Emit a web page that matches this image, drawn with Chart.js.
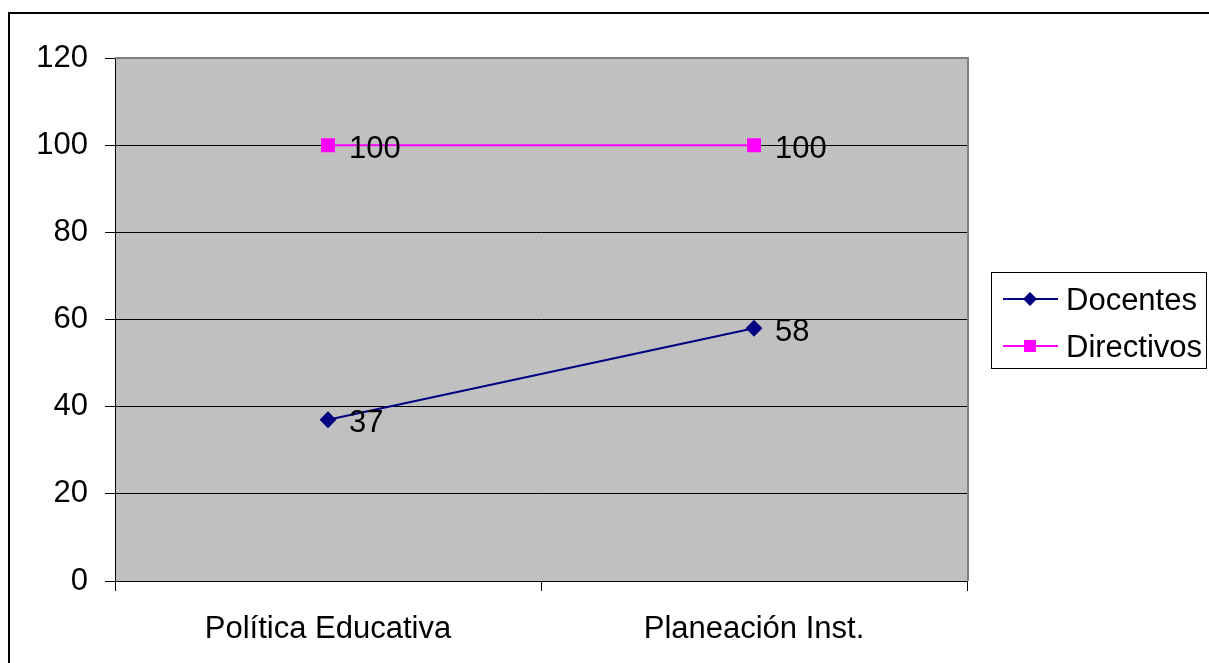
<!DOCTYPE html>
<html>
<head>
<meta charset="utf-8">
<script src="https://cdn.jsdelivr.net/npm/chart.js@4/dist/chart.umd.min.js"></script>
<style>
  html, body { margin: 0; padding: 0; background: #fff; }
  #wrap { width: 1209px; height: 663px; position: relative; }
</style>
</head>
<body>
<div id="wrap"><canvas id="myChart" width="1209" height="663"></canvas></div>
<script>
// data block
const categories = ['Política Educativa', 'Planeación Inst.'];
const docentes = [37, 58];
const directivos = [100, 100];
const yTicks = [0, 20, 40, 60, 80, 100, 120];

const FONT = '"Liberation Sans", Arial, sans-serif';
const FSIZE = 31;

// outer frame + grey plot background
const backdrop = {
    id: 'backdrop',
    beforeDraw(chart) {
        const ctx = chart.ctx;
        const a = chart.chartArea;
        ctx.save();
        ctx.strokeStyle = '#000';
        ctx.lineWidth = 2;
        ctx.strokeRect(9, 13, 1230, 700);
        ctx.fillStyle = '#C0C0C0';
        ctx.fillRect(a.left, a.top, a.right - a.left, a.bottom - a.top);
        ctx.restore();
    },
    beforeDatasetsDraw(chart) {
        const ctx = chart.ctx;
        const a = chart.chartArea;
        ctx.save();
        ctx.strokeStyle = '#808080';
        ctx.lineWidth = 2;
        ctx.beginPath();
        ctx.moveTo(a.left, a.top);
        ctx.lineTo(a.right + 1, a.top);
        ctx.lineTo(a.right + 1, a.bottom);
        ctx.stroke();
        ctx.restore();
    }
};

// value labels next to each point
const valueLabels = {
    id: 'valueLabels',
    afterDatasetsDraw(chart) {
        const ctx = chart.ctx;
        ctx.save();
        ctx.font = FSIZE + 'px ' + FONT;
        ctx.fillStyle = '#000';
        ctx.textAlign = 'left';
        ctx.textBaseline = 'middle';
        chart.data.datasets.forEach((ds, i) => {
            chart.getDatasetMeta(i).data.forEach((pt, j) => {
                ctx.fillText(String(ds.data[j]), pt.x + 21, pt.y + 4);
            });
        });
        ctx.restore();
    }
};

// boxed legend with line + marker samples
const boxLegend = {
    id: 'boxLegend',
    afterDraw(chart) {
        const ctx = chart.ctx;
        const x0 = 991, y0 = 272, w = 215, h = 96;
        ctx.save();
        ctx.strokeStyle = '#000';
        ctx.lineWidth = 1;
        ctx.strokeRect(x0 + 0.5, y0 + 0.5, w, h);
        ctx.font = FSIZE + 'px ' + FONT;
        ctx.textBaseline = 'middle';
        ctx.textAlign = 'left';
        chart.data.datasets.forEach((ds, i) => {
            const cy = y0 + 27 + i * 47;
            ctx.strokeStyle = ds.borderColor;
            ctx.lineWidth = 2;
            ctx.beginPath();
            ctx.moveTo(1003, cy);
            ctx.lineTo(1058, cy);
            ctx.stroke();
            ctx.fillStyle = ds.pointBackgroundColor;
            ctx.beginPath();
            if (ds.pointStyle === 'rectRot') {
                const r = 7;
                ctx.moveTo(1030 - r, cy);
                ctx.lineTo(1030, cy - r);
                ctx.lineTo(1030 + r, cy);
                ctx.lineTo(1030, cy + r);
                ctx.closePath();
            } else {
                ctx.rect(1024, cy - 6, 12, 12);
            }
            ctx.fill();
            ctx.fillStyle = '#000';
            ctx.fillText(ds.label, 1066, cy + 2);
        });
        ctx.restore();
    }
};

const data = {
    labels: categories,
    datasets: [{
        label: 'Docentes',
        data: docentes,
        borderColor: '#000080',
        backgroundColor: '#000080',
        pointBackgroundColor: '#000080',
        pointBorderColor: '#000080',
        pointStyle: 'rectRot',
        pointRadius: 7,
        borderWidth: 2
    }, {
        label: 'Directivos',
        data: directivos,
        borderColor: '#FF00FF',
        backgroundColor: '#FF00FF',
        pointBackgroundColor: '#FF00FF',
        pointBorderColor: '#FF00FF',
        pointStyle: 'rect',
        pointRadius: 8.5,
        borderWidth: 2
    }]
};

const config = {
    type: 'line',
    data: data,
    options: {
        responsive: false,
        animation: false,
        layout: { padding: { top: 58, right: 242, bottom: 0, left: 0 } },
        plugins: {
            legend: { display: false },
            tooltip: { enabled: false }
        },
        scales: {
            x: {
                offset: true,
                grid: { display: true, drawOnChartArea: false, offset: true, color: '#000', tickLength: 10 },
                border: { display: true, color: '#000', width: 1 },
                ticks: { color: '#000', font: { family: FONT, size: FSIZE }, padding: 20, maxRotation: 0 },
                afterFit(scale) { scale.height = 82; }
            },
            y: {
                min: 0,
                max: 120,
                afterBuildTicks(scale) { scale.ticks = yTicks.map(v => ({ value: v })); },
                grid: { color: '#000', tickLength: 10, drawTicks: true },
                border: { display: true, color: '#000', width: 1 },
                ticks: { color: '#000', font: { family: FONT, size: FSIZE }, padding: 17 },
                afterFit(scale) { scale.width = 115; }
            }
        }
    },
    plugins: [backdrop, valueLabels, boxLegend]
};

const myChart = new Chart(document.getElementById('myChart'), config);
</script>
</body>
</html>
